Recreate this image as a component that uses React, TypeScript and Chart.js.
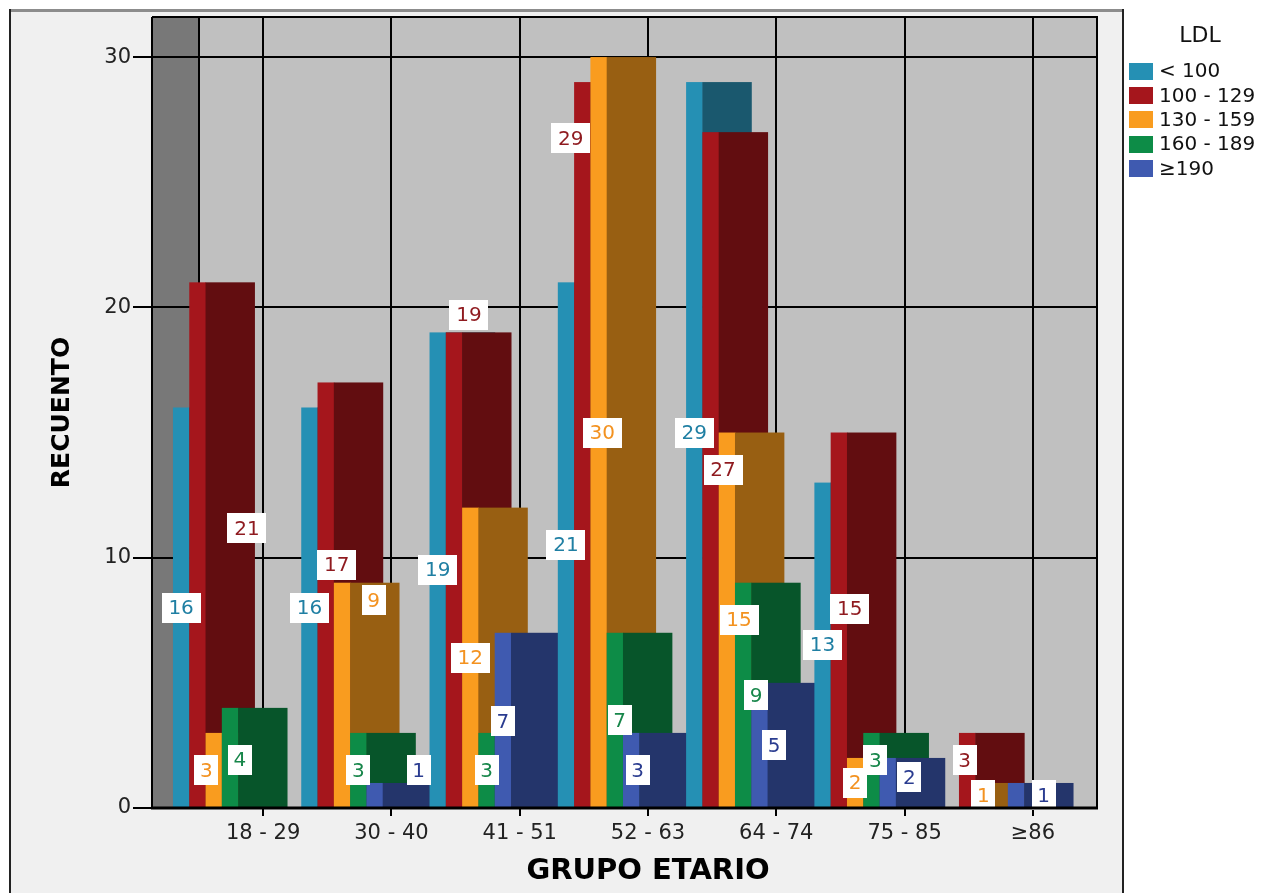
import { useEffect, useRef } from 'react';
import { Chart, registerables } from 'chart.js';

Chart.register(...registerables);

// ---------- data ----------
const GROUPS = ['18 - 29', '30 - 40', '41 - 51', '52 - 63', '64 - 74', '75 - 85', '≥86'];
const SERIES = ['< 100', '100 - 129', '130 - 159', '160 - 189', '≥190'];
const LDL_LT100 = [16, 16, 19, 21, 29, 13, 0];
const LDL_100_129 = [21, 17, 19, 29, 27, 15, 3];
const LDL_130_159 = [3, 9, 12, 30, 15, 2, 1];
const LDL_160_189 = [4, 3, 3, 7, 9, 3, 0];
const LDL_GE190 = [0, 1, 7, 3, 5, 2, 1];
const Y_TICKS = [0, 10, 20, 30];
const Y_MAX = 31.6;

// value-label anchors (value units) and horizontal shifts (in bar steps)
const LABEL_Y_LT100 = [8, 8, 9.5, 10.5, 15, 6.5, 0];
const LABEL_Y_100_129 = [11.17, 9.7, 19.7, 26.75, 13.5, 7.96, 1.9];
const LABEL_Y_130_159 = [1.5, 8.29, 6, 15, 7.5, 1, 0.5];
const LABEL_Y_160_189 = [1.92, 1.5, 1.5, 3.5, 4.5, 1.9, 0];
const LABEL_Y_GE190 = [0, 1.5, 3.46, 1.5, 2.5, 1.22, 0.5];
const LABEL_DX_LT100 = [0, 0, 0, 0, 0, 0, 0];
const LABEL_DX_100_129 = [3.04, 0.68, 0.92, -0.7, 0.77, 0.67, -0.15];
const LABEL_DX_130_159 = [-0.45, 1.94, 0, 0.23, 0.75, 0, 0];
const LABEL_DX_160_189 = [0.6, 0, 0, 0.3, 0.8, 0.25, 0];
const LABEL_DX_GE190 = [0, 2.7, 0, 0.4, 0.9, 1.33, 1.7];

// ---------- styles ----------
const FONT = '"DejaVu Sans", Verdana, sans-serif';
const FRONT = ['#2590b4', '#a5161c', '#f99c1f', '#0d8c47', '#3f5ab0'];
const SIDE = ['#1a586e', '#620d10', '#985f12', '#07552a', '#24356b'];
const LABEL_COLORS = ['#1f7fa3', '#8f1a1f', '#f39220', '#17864a', '#2a3c90'];

const VALUES = [LDL_LT100, LDL_100_129, LDL_130_159, LDL_160_189, LDL_GE190];
const LABEL_Y = [LABEL_Y_LT100, LABEL_Y_100_129, LABEL_Y_130_159, LABEL_Y_160_189, LABEL_Y_GE190];
const LABEL_DX = [LABEL_DX_LT100, LABEL_DX_100_129, LABEL_DX_130_159, LABEL_DX_160_189, LABEL_DX_GE190];

const WALL = 47;

const bars3d = {
  id: 'bars3d',
  beforeDraw(chart: any) {
    const { ctx, chartArea: a, width, height } = chart;
    ctx.save();
    ctx.fillStyle = '#ffffff';
    ctx.fillRect(0, 0, width, height);
    ctx.fillStyle = '#f0f0f0';
    ctx.fillRect(10, 10, 1113, height - 10);
    ctx.fillStyle = '#8c8c8c';
    ctx.fillRect(10, 9, 1114, 3);
    ctx.fillStyle = '#222';
    ctx.fillRect(9, 9, 2, height - 9);
    ctx.fillRect(1122, 9, 2, height - 9);
    ctx.fillStyle = '#c0c0c0';
    ctx.fillRect(a.left, a.top, a.right - a.left, a.bottom - a.top);
    ctx.fillStyle = '#787878';
    ctx.fillRect(a.left - WALL, a.top, WALL, a.bottom - a.top);
    ctx.restore();
  },
  beforeDatasetsDraw(chart: any) {
    const { ctx } = chart;
    const xs = chart.scales.x;
    const ys = chart.scales.y;
    const w = xs.width / GROUPS.length;
    const step = 0.127 * w;
    const side = 0.385 * w;
    const base = ys.getPixelForValue(0);
    ctx.save();
    for (let k = 0; k < GROUPS.length; k++) {
      const start = xs.getPixelForValue(k) - 0.703 * w;
      for (let i = 0; i < VALUES.length; i++) {
        const v = VALUES[i][k];
        if (!v) continue;
        const top = ys.getPixelForValue(v);
        const fx = start + i * step;
        ctx.fillStyle = FRONT[i];
        ctx.fillRect(fx, top, step + 0.5, base - top);
        ctx.fillStyle = SIDE[i];
        ctx.fillRect(fx + step, top, side, base - top);
      }
    }
    ctx.font = `20px ${FONT}`;
    ctx.textAlign = 'center';
    ctx.textBaseline = 'middle';
    for (let k = 0; k < GROUPS.length; k++) {
      const start = xs.getPixelForValue(k) - 0.703 * w;
      for (let i = 0; i < VALUES.length; i++) {
        const v = VALUES[i][k];
        if (!v) continue;
        const txt = String(v);
        const bw = 9 + 15 * txt.length;
        const bh = 30;
        const cx = start + (i + 0.5 + LABEL_DX[i][k]) * step;
        const cy = ys.getPixelForValue(LABEL_Y[i][k]);
        ctx.fillStyle = '#ffffff';
        ctx.fillRect(Math.round(cx - bw / 2), Math.round(cy - bh / 2), bw, bh);
        ctx.fillStyle = LABEL_COLORS[i];
        ctx.fillText(txt, cx, cy + 1);
      }
    }
    ctx.restore();
    return false;
  },
  afterDraw(chart: any) {
    const { ctx, chartArea: a } = chart;
    const wl = a.left - WALL;
    ctx.save();
    ctx.strokeStyle = '#000';
    ctx.lineWidth = 2;
    ctx.beginPath();
    ctx.moveTo(wl, a.top);
    ctx.lineTo(a.right, a.top);
    ctx.lineTo(a.right, a.bottom);
    ctx.moveTo(wl, a.top);
    ctx.lineTo(wl, a.bottom);
    ctx.stroke();
    ctx.lineWidth = 3;
    ctx.beginPath();
    ctx.moveTo(wl - 1, a.bottom);
    ctx.lineTo(a.right + 1, a.bottom);
    ctx.stroke();

    // legend
    ctx.fillStyle = '#111';
    ctx.textAlign = 'center';
    ctx.textBaseline = 'middle';
    ctx.font = `22px ${FONT}`;
    ctx.fillText('LDL', 1200, 36);
    ctx.textAlign = 'left';
    ctx.font = `20px ${FONT}`;
    chart.data.datasets.forEach((ds: any, i: number) => {
      const y = 71 + i * 24.4;
      ctx.fillStyle = FRONT[i];
      ctx.fillRect(1129, Math.round(y - 8.5), 24, 17);
      ctx.fillStyle = '#111';
      ctx.fillText(ds.label, 1159, y + 1);
    });
    ctx.restore();
  },
};

export default function App() {
  const ref = useRef<HTMLCanvasElement | null>(null);
  useEffect(() => {
    if (!ref.current) return;
    const chart = new Chart(ref.current, {
      type: 'bar',
      data: {
        labels: GROUPS,
        datasets: SERIES.map((s, i) => ({
          label: s,
          data: VALUES[i],
          backgroundColor: FRONT[i],
        })),
      },
      options: {
        animation: false,
        responsive: false,
        devicePixelRatio: 1,
        layout: { padding: { left: 10, top: 17, right: 187, bottom: 0 } },
        plugins: {
          legend: { display: false },
          tooltip: { enabled: false },
        },
        scales: {
          x: {
            type: 'category',
            offset: true,
            grid: { offset: false, color: '#000', lineWidth: 2, tickLength: 8, drawTicks: true },
            border: { display: true, color: '#000', width: 2 },
            ticks: { font: { family: FONT, size: 21 }, color: '#222', padding: 5, maxRotation: 0, autoSkip: false },
            afterFit: (s: any) => { s.height = 85; },
            title: {
              display: true,
              text: 'GRUPO ETARIO',
              font: { family: FONT, size: 29, weight: 'bold' },
              color: '#000',
              padding: { top: 0, bottom: 4 },
            },
          },
          y: {
            type: 'linear',
            min: 0,
            max: Y_MAX,
            afterBuildTicks: (s: any) => { s.ticks = Y_TICKS.map((v) => ({ value: v })); },
            afterFit: (s: any) => { s.width = 189; },
            grid: { color: '#000', lineWidth: 2, tickLength: 66, drawTicks: true },
            border: { display: true, color: '#000', width: 2 },
            ticks: { font: { family: FONT, size: 21 }, color: '#222', padding: 2 },
            title: {
              display: true,
              text: 'RECUENTO',
              font: { family: FONT, size: 25, weight: 'bold' },
              color: '#000',
              padding: { top: 37, bottom: 0 },
            },
          },
        },
      },
      plugins: [bars3d],
    } as any);
    return () => chart.destroy();
  }, []);
  return (
    <div style={{ position: 'fixed', left: 0, top: 0, width: 1284, height: 893 }}>
      <canvas ref={ref} width={1284} height={893} style={{ display: 'block' }} />
    </div>
  );
}
